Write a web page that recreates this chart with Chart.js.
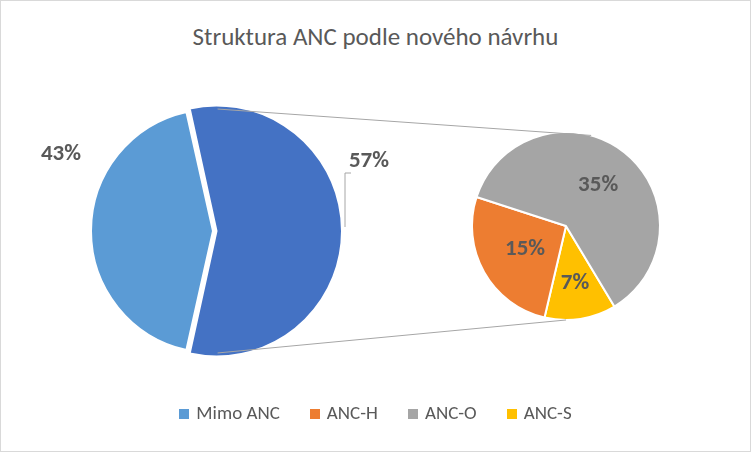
<!DOCTYPE html>
<html><head><meta charset="utf-8">
<script src="https://cdn.jsdelivr.net/npm/chart.js@4"></script>
<style>
body{margin:0;background:#fff;font-family:Calibri,Carlito,"Liberation Sans",sans-serif}
#wrap{position:relative;width:749px;height:450px;border:1px solid #d9d9d9;overflow:hidden}
#title{position:absolute;top:20px;width:100%;text-align:center;font-size:25px;color:#595959}
#c1{position:absolute;left:-3px;top:80px}
#c2{position:absolute;left:440px;top:100px}
#ov{position:absolute;left:0;top:0;pointer-events:none}
#legend{position:absolute;top:400px;width:100%;text-align:center;font-size:19px;color:#595959}
#legend span{margin:0 15px}
#legend i{display:inline-block;width:10px;height:10px;margin-right:7px}
</style></head><body>
<div id="wrap">
  <div id="title">Struktura ANC podle nového návrhu</div>
  <canvas id="c1" width="430" height="300"></canvas>
  <canvas id="c2" width="250" height="250"></canvas>
  <canvas id="ov" width="749" height="450"></canvas>
  <div id="legend"></div>
</div>
<script>
// main pie: rest vs. ANC total; secondary pie splits ANC
const mainLabels = ['ANC', 'Mimo ANC'];
const mainValues = [57, 43];
const mainColors = ['#4472C4', '#5B9BD5'];

const subLabels = ['ANC-S', 'ANC-H', 'ANC-O'];
const subValues = [7, 15, 35];
const subColors = ['#FFC000', '#ED7D31', '#A5A5A5'];

const legendItems = [['Mimo ANC', '#5B9BD5'], ['ANC-H', '#ED7D31'], ['ANC-O', '#A5A5A5'], ['ANC-S', '#FFC000']];

const LABEL_FONT = 'bold 23px Calibri, Carlito, "Liberation Sans", sans-serif';
const LABEL_COLOR = '#595959';

document.getElementById('legend').innerHTML = legendItems
  .map(([t, c]) => `<span><i style="background:${c}"></i>${t}</span>`).join('');

const total = mainValues.reduce((a, b) => a + b, 0);
// centre the ANC slice on 3 o'clock like Excel's pie-of-pie
const mainRotation = 90 - (mainValues[0] / total) * 180;

const baseOpts = {
  responsive: false,
  animation: false,
  events: [],
  plugins: { legend: { display: false }, tooltip: { enabled: false } },
};

const chart1 = new Chart(document.getElementById('c1'), {
  type: 'pie',
  data: { labels: mainLabels, datasets: [{ data: mainValues, backgroundColor: mainColors,
    borderColor: '#fff', borderWidth: 2, offset: [14, 0] }] },
  options: { ...baseOpts, rotation: mainRotation, radius: 122 },
});

const chart2 = new Chart(document.getElementById('c2'), {
  type: 'pie',
  data: { labels: subLabels, datasets: [{ data: subValues, backgroundColor: subColors,
    borderColor: '#fff', borderWidth: 2 }] },
  options: { ...baseOpts, rotation: 149, radius: 94 },
});

// overlay: connector lines and percentage labels
const ov = document.getElementById('ov').getContext('2d');
const a1 = chart1.getDatasetMeta(0).data[0];
const a2 = chart2.getDatasetMeta(0).data;
const c1x = -3 + a1.x + 7, c1y = 80 + a1.y;
const c2x = 440 + a2[0].x, c2y = 100 + a2[0].y;
const r2 = a2[0].outerRadius;

function pt(cx, cy, r, ang) { return [cx + r * Math.cos(ang), cy + r * Math.sin(ang)]; }

ov.strokeStyle = '#a6a6a6';
ov.lineWidth = 1;
[[a1.startAngle + 0.2, -1.3], [a1.endAngle - 0.2, 1.57]].forEach(([ang, ang2]) => {
  const p = pt(c1x, c1y, a1.outerRadius, ang);
  const q = pt(c2x, c2y, r2, ang2);
  ov.beginPath(); ov.moveTo(p[0], p[1]); ov.lineTo(q[0], q[1]); ov.stroke();
});

// leader line for 57%
ov.beginPath(); ov.moveTo(350, 172); ov.lineTo(344, 172); ov.lineTo(344, 226); ov.stroke();

ov.font = LABEL_FONT;
ov.fillStyle = LABEL_COLOR;
ov.textAlign = 'center';
ov.textBaseline = 'middle';
ov.fillText(mainValues[1] + '%', 60, 153);
ov.fillText(mainValues[0] + '%', 368, 160);

// secondary labels inside slices
a2.forEach((arc, i) => {
  const mid = (arc.startAngle + arc.endAngle) / 2;
  const f = [0.62, 0.5, 0.55][i];
  const p = pt(c2x, c2y, r2 * f, mid);
  ov.fillText(subValues[i] + '%', p[0], p[1]);
});
</script>
</body></html>
